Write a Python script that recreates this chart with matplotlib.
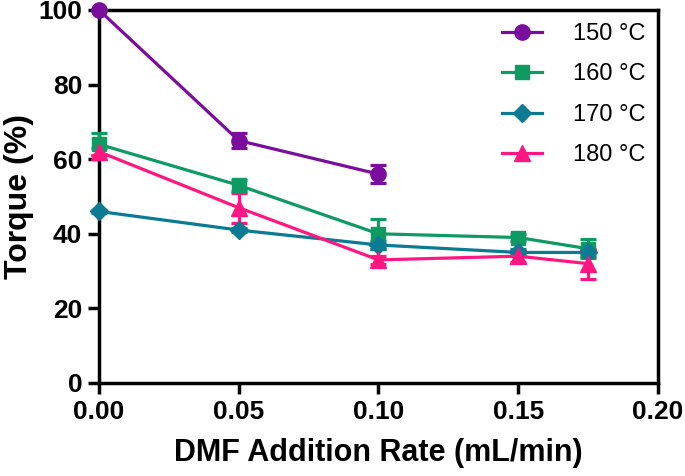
import numpy as np
import matplotlib.pyplot as plt
from matplotlib.lines import Line2D

plt.rcParams['font.family'] = ['Liberation Sans', 'DejaVu Sans']

x_150 = [0.0, 0.05, 0.10]
y_150 = [100, 65, 56]
e_150 = [0, 2, 2.5]

x_160 = [0.0, 0.05, 0.10, 0.15, 0.175]
y_160 = [64, 53, 40, 39, 36]
e_160 = [3, 1.5, 4, 1, 2.5]

x_170 = [0.0, 0.05, 0.10, 0.15, 0.175]
y_170 = [46, 41, 37, 35, 35]
e_170 = [0.5, 0.5, 1, 1, 1]

x_180 = [0.0, 0.05, 0.10, 0.15, 0.175]
y_180 = [62, 47, 33, 34, 32]
e_180 = [1, 4, 1, 1.5, 4]

series = [
    ('150 °C', x_150, y_150, e_150, '#7A0C9E', 'o', 11),
    ('160 °C', x_160, y_160, e_160, '#0E9A63', 's', 10.5),
    ('170 °C', x_170, y_170, e_170, '#0B7A93', 'D', 9),
    ('180 °C', x_180, y_180, e_180, '#FF1681', '^', 11),
]

fig = plt.figure(figsize=(6.85, 4.76), dpi=100)
ax = fig.add_axes([0.1445, 0.1954, 0.8161, 0.7836])

handles = []
for label, xs, ys, es, color, marker, ms in series:
    ax.errorbar(xs, ys, yerr=es, color=color, marker=marker, markersize=ms,
                linewidth=2.3, elinewidth=2.3, capsize=5.5, capthick=2.3,
                clip_on=False, zorder=3)
    handles.append(Line2D([], [], color=color, marker=marker, markersize=ms,
                          linewidth=2.3, label=label))

ax.set_xlim(0, 0.20)
ax.set_ylim(0, 100)
ax.set_xticks([0.0, 0.05, 0.10, 0.15, 0.20])
ax.set_xticklabels(['0.00', '0.05', '0.10', '0.15', '0.20'])
ax.set_yticks([0, 20, 40, 60, 80, 100])

for s in ax.spines.values():
    s.set_linewidth(2.5)
ax.tick_params(direction='out', length=8, width=2.5, labelsize=19, pad=4)
for lbl in ax.get_xticklabels() + ax.get_yticklabels():
    lbl.set_fontweight('bold')

ax.set_xlabel('DMF Addition Rate (mL/min)', fontsize=22, fontweight='bold', labelpad=10)
ax.set_ylabel('Torque (%)', fontsize=23, fontweight='bold')
ax.yaxis.set_label_coords(-0.117, 0.5)

ax.legend(handles=handles, loc='upper right', frameon=False, fontsize=17,
          handlelength=1.7, labelspacing=0.78, borderaxespad=0.35,
          handletextpad=1.3, borderpad=0.2)

fig.savefig('out.png', dpi=100)
